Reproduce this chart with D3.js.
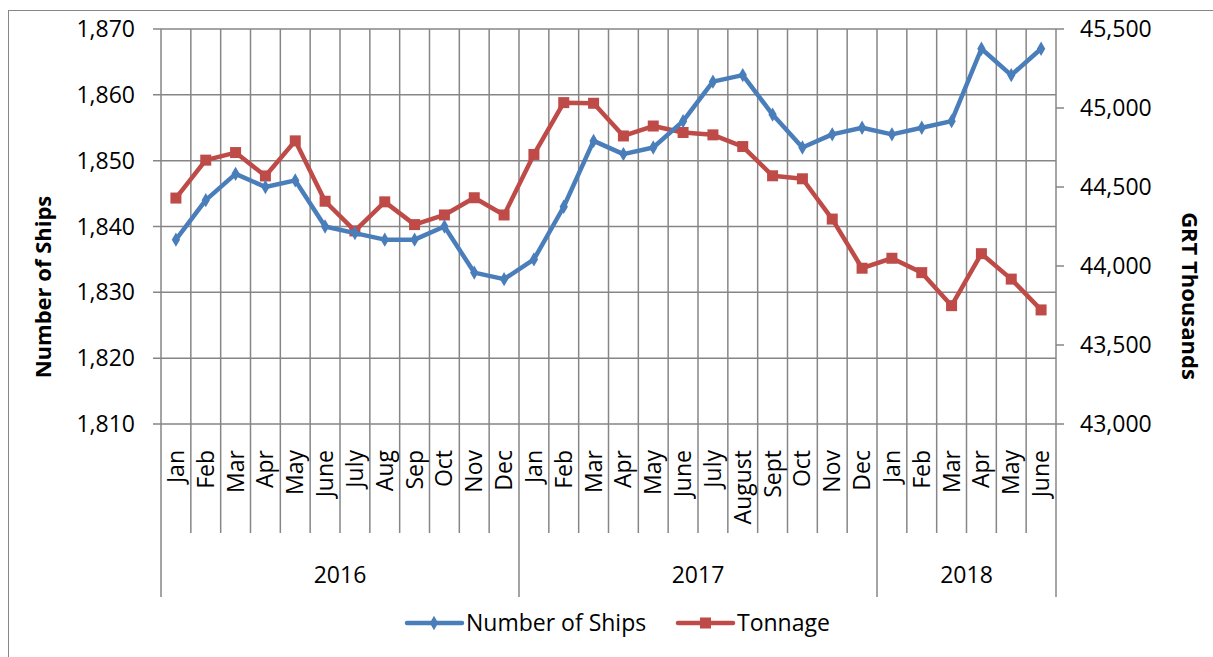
<!doctype html>
<html>
  <head>
    <script src="https://cdnjs.cloudflare.com/ajax/libs/d3/7.8.5/d3.min.js"></script>
    <style>
      body { margin: 0; background: #fff; }
      text { font-family: "Open Sans", sans-serif; fill: #000; }
      .grid line { stroke: #868686; stroke-width: 1.5px; }
      .title { font-weight: bold; }
    </style>
  </head>
  <body>
    <svg id="chart" width="1213" height="657"></svg>
    <script>
      var months = ["Jan","Feb","Mar","Apr","May","June","July","Aug","Sep","Oct","Nov","Dec",
                    "Jan","Feb","Mar","Apr","May","June","July","August","Sept","Oct","Nov","Dec",
                    "Jan","Feb","Mar","Apr","May","June"];
      var years = ["2016", "2017", "2018"];
      var monthsPerYear = [12, 12, 6];
      var ships = [1838,1844,1848,1846,1847,1840,1839,1838,1838,1840,1833,1832,
                   1835,1843,1853,1851,1852,1856,1862,1863,1857,1852,1854,1855,
                   1854,1855,1856,1867,1863,1867];
      var tonnage = [44430,44670,44718,44570,44792,44410,44222,44406,44262,44323,44432,44323,
                     44706,45034,45030,44823,44886,44845,44830,44756,44571,44552,44297,43986,
                     44049,43958,43749,44078,43917,43722];
      var shipTicks = [1810,1820,1830,1840,1850,1860,1870];
      var tonTicks = [43000,43500,44000,44500,45000,45500];

      var svg = d3.select("#chart");
      var plotLeft = 161, plotRight = 1056, plotTop = 29, plotBottom = 424;
      var grey = "#868686";

      // outer frame
      svg.append("rect")
        .attr("x", 8.5).attr("y", 10.5)
        .attr("width", 1230).attr("height", 700)
        .attr("fill", "none").attr("stroke", grey).attr("stroke-width", 1);

      var x = d3.scaleBand().domain(d3.range(months.length)).range([plotLeft, plotRight]).padding(0);
      var cx = i => x(i) + x.bandwidth() / 2;
      var yL = d3.scaleLinear().domain([1810, 1870]).range([plotBottom, plotTop]);
      var yR = d3.scaleLinear().domain([43000, 45500]).range([plotBottom, plotTop]);

      var grid = svg.append("g").attr("class", "grid");

      // horizontal gridlines + left ticks
      grid.selectAll("line.h").data(shipTicks).enter().append("line")
        .attr("x1", plotLeft - 8).attr("x2", plotRight)
        .attr("y1", d => yL(d)).attr("y2", d => yL(d));

      // vertical gridlines at category boundaries, extending into the label area
      var bounds = d3.range(months.length + 1);
      var yearEnds = Array.from(d3.cumsum(monthsPerYear));
      grid.selectAll("line.v").data(bounds).enter().append("line")
        .attr("x1", d => plotLeft + d * x.bandwidth()).attr("x2", d => plotLeft + d * x.bandwidth())
        .attr("y1", plotTop)
        .attr("y2", d => (d === 0 || yearEnds.includes(d)) ? 597 : 533);

      // right axis ticks
      grid.selectAll("line.r").data(tonTicks).enter().append("line")
        .attr("x1", plotRight).attr("x2", plotRight + 8)
        .attr("y1", d => yR(d)).attr("y2", d => yR(d));

      var fmt = d3.format(",");
      svg.append("g").selectAll("text").data(shipTicks).enter().append("text")
        .attr("x", 135).attr("y", d => yL(d)).attr("dy", "0.35em")
        .attr("text-anchor", "end").style("font-size", "23px")
        .text(d => fmt(d));

      svg.append("g").selectAll("text").data(tonTicks).enter().append("text")
        .attr("x", 1080).attr("y", d => yR(d)).attr("dy", "0.35em")
        .attr("text-anchor", "start").style("font-size", "23px")
        .text(d => fmt(d));

      // month labels
      svg.append("g").selectAll("text").data(months).enter().append("text")
        .attr("transform", (d, i) => `translate(${cx(i)},450) rotate(-90)`)
        .attr("dy", "0.35em").attr("text-anchor", "end")
        .style("font-size", "23px")
        .text(d => d);

      // year labels
      var starts = [0].concat(yearEnds.slice(0, -1));
      svg.append("g").selectAll("text").data(years).enter().append("text")
        .attr("x", (d, i) => plotLeft + (starts[i] + monthsPerYear[i] / 2) * x.bandwidth())
        .attr("y", 583).attr("text-anchor", "middle")
        .style("font-size", "23px")
        .text(d => d);

      // axis titles
      svg.append("text").attr("class", "title")
        .attr("transform", "translate(43,287) rotate(-90)")
        .attr("dy", "0.35em").attr("text-anchor", "middle")
        .style("font-size", "22px")
        .text("Number of Ships");
      svg.append("text").attr("class", "title")
        .attr("transform", "translate(1190,296) rotate(90)")
        .attr("dy", "0.35em").attr("text-anchor", "middle")
        .style("font-size", "22px")
        .text("GRT Thousands");

      var blue = "#4a7ebb", red = "#be4b48";

      // tonnage series
      var redLine = d3.line().x((d, i) => cx(i)).y(d => yR(d));
      svg.append("path").datum(tonnage)
        .attr("d", redLine).attr("fill", "none")
        .attr("stroke", red).attr("stroke-width", 4.5).attr("stroke-linejoin", "round");
      svg.append("g").selectAll("rect").data(tonnage).enter().append("rect")
        .attr("x", (d, i) => cx(i) - 5.5).attr("y", d => yR(d) - 5.5)
        .attr("width", 11).attr("height", 11).attr("fill", red);

      // ships series
      var blueLine = d3.line().x((d, i) => cx(i)).y(d => yL(d));
      svg.append("path").datum(ships)
        .attr("d", blueLine).attr("fill", "none")
        .attr("stroke", blue).attr("stroke-width", 4.5).attr("stroke-linejoin", "round");
      var diamond = d3.symbol().type(d3.symbolDiamond).size(60);
      svg.append("g").selectAll("path").data(ships).enter().append("path")
        .attr("d", diamond)
        .attr("transform", (d, i) => `translate(${cx(i)},${yL(d)})`)
        .attr("fill", blue);

      // legend
      var legend = svg.append("g");
      legend.append("line").attr("x1", 407).attr("x2", 462).attr("y1", 623).attr("y2", 623)
        .attr("stroke", blue).attr("stroke-width", 4.5).attr("stroke-linecap", "round");
      legend.append("path").attr("d", diamond).attr("transform", "translate(434,623)").attr("fill", blue);
      legend.append("text").attr("x", 466).attr("y", 623).attr("dy", "0.35em")
        .style("font-size", "23px").text("Number of Ships");
      legend.append("line").attr("x1", 678).attr("x2", 733).attr("y1", 623).attr("y2", 623)
        .attr("stroke", red).attr("stroke-width", 4.5).attr("stroke-linecap", "round");
      legend.append("rect").attr("x", 700).attr("y", 617.5).attr("width", 11).attr("height", 11).attr("fill", red);
      legend.append("text").attr("x", 737).attr("y", 623).attr("dy", "0.35em")
        .style("font-size", "23px").text("Tonnage");
    </script>
  </body>
</html>
